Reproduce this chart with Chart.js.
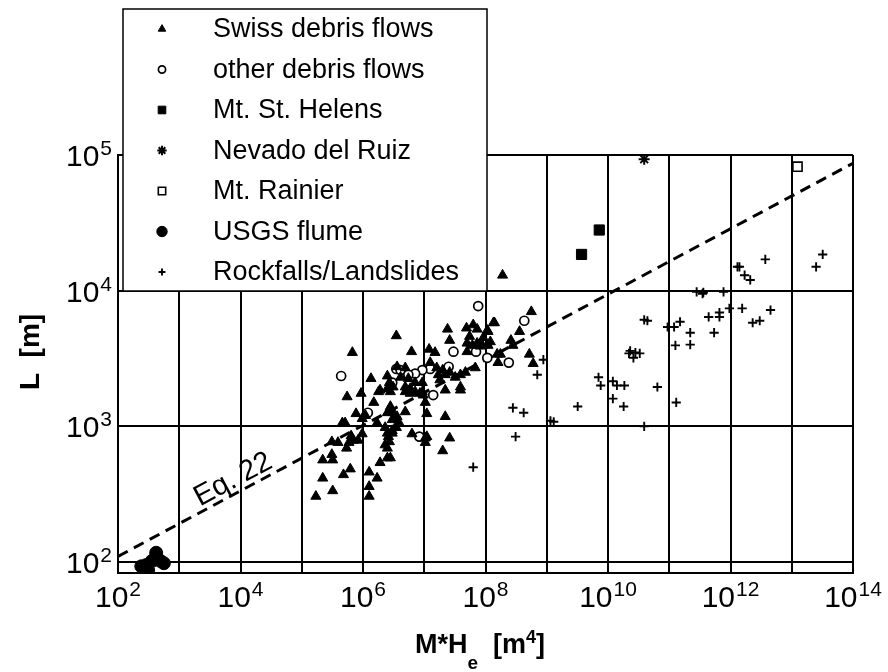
<!DOCTYPE html>
<html>
<head>
<meta charset="utf-8">
<script src="https://cdn.jsdelivr.net/npm/chart.js@4.4.0/dist/chart.umd.min.js"></script>
<style>
  html, body { margin: 0; padding: 0; background: #fff; }
  #wrap { width: 888px; height: 672px; }
</style>
</head>
<body>
<div id="wrap"><canvas id="runout" width="888" height="672"></canvas></div>
<script>
// ----- data (M*He in m^4, L in m) -----
const swissX = [3.5e6, 6.7e5, 6.2e6, 1.2e7, 1.5e7, 2.4e7, 2.6e7, 4.9e7, 6.3e7, 7.3e7, 5.5e7, 5.0e7, 6.1e7, 7.3e7, 1.35e8, 1.07e8, 5.0e7, 8.9e7, 1.2e8, 1.55e8,
  1.25e7, 1.6e7, 2.0e7, 1.7e7, 2.2e7, 2.6e7, 3.2e7, 3.9e7, 4.7e7, 1.8e7,
  3.6e6, 4.9e6, 4.1e6, 5.5e6, 4.9e6, 5.9e6, 7.1e6, 9.3e6, 3.9e7, 6.8e7, 8.5e6,
  1.35e6, 2.5e6, 2.7e6, 1.9e6, 2.5e6, 3.1e6, 5.5e5, 9.3e5, 1.8e6, 1.5e6,
  7.7e5, 9.7e5, 1.1e6, 1.7e6, 2.5e6, 2.8e6, 3.0e6, 3.6e6,
  4.6e5, 5.1e5, 6.4e5, 6.9e5, 9.7e5, 8.3e5, 2.3e6, 2.5e6, 2.6e6, 3.0e6, 3.5e6,
  3.1e5, 3.9e5, 5.4e5, 5.9e5, 2.3e6, 2.5e6, 2.7e6,
  2.2e5, 3.1e5, 3.2e5, 1.9e6, 2.5e6,
  2.2e5, 4.8e5, 6.2e5, 1.26e6, 1.7e6, 1.26e6,
  1.7e5, 3.2e5, 1.26e6,
  4.9e6, 5.9e6, 7.1e6, 9.3e6, 1.04e7, 9.6e6, 2.2e7,
  4.9e6, 1.1e7, 2.2e7, 3.8e6, 2.8e6, 3.1e6,
  3.0e6, 6.3e6, 1.04e7, 1.1e7, 1.04e7, 2.6e7, 2.0e7, 2.8e6,
  1.9e8, 5.6e8, 1.4e8, 3.6e8, 9.2e7, 1.1e8, 8.2e7, 2.6e8, 2.8e8, 1.75e8, 1.6e8, 5.2e8, 6.0e8,
  3.9e7, 2.8e6, 1.1e8];
const swissY = [4650, 3500, 3550, 3700, 3500, 5200, 4300, 5300, 5600, 5200, 4600, 4100, 3950, 4100, 5800, 5100, 3550, 3950, 4200, 3400,
  2950, 2700, 2600, 2400, 2400, 2500, 2300, 2400, 2500, 2200,
  2750, 2700, 2300, 2250, 1950, 1900, 2100, 2100, 1950, 2700, 1750,
  2250, 2350, 2100, 1850, 1900, 1950, 1650, 1750, 1800, 1500,
  1240, 1140, 1200, 1060, 1260, 1400, 1120, 1180,
  1060, 1060, 850, 790, 880, 790, 980, 890, 840, 930, 980,
  770, 760, 690, 760, 730, 690, 770,
  565, 620, 565, 540, 585,
  415, 440, 485, 460, 415, 360,
  305, 335, 305,
  1800, 1750, 1800, 1800, 1500, 1700, 1850,
  1280, 1240, 1180, 1080, 1370, 1260,
  890, 880, 820, 840, 760, 820, 660, 585,
  13000, 7000, 5800, 5000, 4500, 3950, 3900, 4300, 3950, 3400, 2950, 3400, 2900,
  1850, 1800, 5000];

const otherX = [4.4e5, 3.5e6, 3.0e6, 7.6e7, 3.0e7, 7.0e7, 1.07e8, 1.25e7, 2.5e7, 9.3e6, 7.1e6, 5.5e6, 4.1e6, 1.4e7, 1.2e6, 8.3e6, 4.3e8, 2.4e8];
const otherY = [2350, 2650, 2100, 7700, 3550, 3550, 3200, 2650, 2750, 2600, 2450, 2400, 2600, 1700, 1260, 840, 6000, 2950];

const helensX = [3.7e9, 7.2e9];
const helensY = [18500, 28000];

const ruizX = [3.9e10];
const ruizY = [93000];

const rainierX = [1.24e13];
const rainierY = [82000];

const flumeX = [240, 290, 310, 360, 420, 490, 560];
const flumeY = [93, 95, 87, 102, 117, 102, 98];

const rockX = [6.3e7, 8.8e8, 7.0e8, 2.8e8, 4.2e8, 3.1e8, 1.15e9, 1.3e9, 3.2e9, 7.0e9, 7.6e9, 1.2e10, 1.4e10, 1.85e10, 1.2e10, 1.8e10, 6.4e10, 3.9e10,
  2.3e10, 2.8e10, 2.6e10, 3.3e10, 2.2e10, 3.9e10, 4.4e10, 9.4e10, 1.2e11, 1.5e11, 2.2e11, 1.26e11, 2.2e11, 4.4e11, 6.6e11, 6.6e11, 9.6e11, 1.55e12,
  5.4e11, 2.3e12, 3.0e12, 4.5e12, 1.3e11, 2.8e11, 3.5e11, 3.6e11, 7.7e11, 1.3e12, 1.4e12, 1.7e12, 2.1e12, 3.7e12, 3.2e13, 2.5e13];
const rockY = [500, 3100, 2400, 1370, 1260, 840, 1100, 1080, 1400, 2300, 2000, 2150, 2000, 2000, 1600, 1400, 1950, 1000,
  3600, 3500, 3200, 3450, 3450, 6100, 6000, 5400, 5400, 5900, 4900, 3950, 4000, 6400, 6900, 6400, 7400, 7400,
  4900, 5800, 6000, 7200, 1500, 9800, 9500, 9700, 9800, 15000, 15000, 13000, 12000, 17000, 18500, 15000];

// Eq. 22 line, end points
const eqX = [1e2, 1e14];
const eqY = [110, 87000];
const eqLabel = 'Eq. 22';
const eqLabelAt = [7.6e3, 405];

// axes
const xGrid = [1e2, 1e3, 1e4, 1e5, 1e6, 1e7, 1e8, 1e9, 1e10, 1e11, 1e12, 1e13, 1e14];
const xLabelVals = [1e2, 1e4, 1e6, 1e8, 1e10, 1e12, 1e14];
const xLabelExps = ['2', '4', '6', '8', '10', '12', '14'];
const yGrid = [1e2, 1e3, 1e4, 1e5];
const yLabelExps = ['2', '3', '4', '5'];

const legendNames = ['Swiss debris flows', 'other debris flows', 'Mt. St. Helens', 'Nevado del Ruiz',
  'Mt. Rainier', 'USGS flume', 'Rockfalls/Landslides'];

const FONT = 'Arial, "Liberation Sans", Helvetica, sans-serif';

const pts = (xs, ys) => xs.map((x, i) => ({ x, y: ys[i] }));

// 各系列のマーカー設定
const markers = [
  { pointStyle: 'triangle', radius: 5.8, fill: '#000', stroke: '#000', borderWidth: 1 },
  { pointStyle: 'circle', radius: 4.5, fill: '#fff', stroke: '#000', borderWidth: 1.7 },
  { pointStyle: 'rect', radius: 7.2, fill: '#000', stroke: '#000', borderWidth: 1 },
  { pointStyle: 'star', radius: 5.5, fill: '#000', stroke: '#000', borderWidth: 2 },
  { pointStyle: 'rect', radius: 6.5, fill: '#fff', stroke: '#000', borderWidth: 1.6 },
  { pointStyle: 'circle', radius: 6.5, fill: '#000', stroke: '#000', borderWidth: 1 },
  { pointStyle: 'cross', radius: 4.6, fill: '#000', stroke: '#000', borderWidth: 1.9 },
];
const legendScale = [0.75, 0.8, 0.75, 0.85, 0.8, 0.8, 0.75];

const series = [
  pts(swissX, swissY), pts(otherX, otherY), pts(helensX, helensY), pts(ruizX, ruizY),
  pts(rainierX, rainierY), pts(flumeX, flumeY), pts(rockX, rockY),
];

const datasets = series.map((data, i) => ({
  type: 'scatter',
  label: legendNames[i],
  data,
  pointStyle: markers[i].pointStyle,
  pointRadius: markers[i].radius,
  pointBackgroundColor: markers[i].fill,
  pointBorderColor: markers[i].stroke,
  pointBorderWidth: markers[i].borderWidth,
  order: 1,
}));
datasets.push({
  type: 'line',
  label: eqLabel,
  data: pts(eqX, eqY),
  borderColor: '#000',
  borderWidth: 3,
  borderDash: [11, 7],
  pointRadius: 0,
  fill: false,
  order: 2,
});

// "10" + superscript exponent
function powLabel(ctx, exp, x, yMid, align) {
  ctx.font = `30px ${FONT}`;
  const wb = ctx.measureText('10').width;
  ctx.font = `21px ${FONT}`;
  const ws = ctx.measureText(exp).width;
  const total = wb + ws + 1;
  const x0 = align === 'right' ? x - total : x - total / 2;
  const base = yMid + 11;
  ctx.textAlign = 'left';
  ctx.textBaseline = 'alphabetic';
  ctx.font = `30px ${FONT}`;
  ctx.fillText('10', x0, base);
  ctx.font = `21px ${FONT}`;
  ctx.fillText(exp, x0 + wb + 1, base - 11);
}

const decor = {
  id: 'decor',
  afterDraw(chart) {
    const ctx = chart.ctx;
    const sx = chart.scales.x, sy = chart.scales.y;
    ctx.save();
    ctx.fillStyle = '#000';

    // tick labels
    yGrid.forEach((v, i) => powLabel(ctx, yLabelExps[i], 112, sy.getPixelForValue(v), 'right'));
    xLabelVals.forEach((v, i) => powLabel(ctx, xLabelExps[i], sx.getPixelForValue(v), 596, 'center'));

    // y title
    ctx.save();
    ctx.translate(31, 352);
    ctx.rotate(-Math.PI / 2);
    ctx.font = `bold 28px ${FONT}`;
    ctx.textAlign = 'center';
    ctx.textBaseline = 'middle';
    ctx.fillText('L  [m]', 0, 0);
    ctx.restore();

    // x title: M*He [m4]
    const parts = [
      { t: 'M*H', f: `bold 27px ${FONT}`, dy: 0 },
      { t: 'e', f: `bold 19px ${FONT}`, dy: 16 },
      { t: '  [m', f: `bold 27px ${FONT}`, dy: 0 },
      { t: '4', f: `bold 18px ${FONT}`, dy: -10 },
      { t: ']', f: `bold 27px ${FONT}`, dy: 0 },
    ];
    let tw = 0;
    parts.forEach(p => { ctx.font = p.f; p.w = ctx.measureText(p.t).width; tw += p.w; });
    let tx = 480 - tw / 2;
    ctx.textAlign = 'left';
    ctx.textBaseline = 'alphabetic';
    parts.forEach(p => { ctx.font = p.f; ctx.fillText(p.t, tx, 653 + p.dy); tx += p.w; });

    // Eq. 22 label, rotated along the line
    const x1 = sx.getPixelForValue(eqX[0]), y1 = sy.getPixelForValue(eqY[0]);
    const x2 = sx.getPixelForValue(eqX[1]), y2 = sy.getPixelForValue(eqY[1]);
    const ang = Math.atan2(y2 - y1, x2 - x1);
    ctx.save();
    ctx.translate(sx.getPixelForValue(eqLabelAt[0]), sy.getPixelForValue(eqLabelAt[1]));
    ctx.rotate(ang);
    ctx.font = `29px ${FONT}`;
    ctx.textAlign = 'center';
    ctx.textBaseline = 'middle';
    ctx.fillText(eqLabel, 0, 0);
    ctx.restore();

    // legend box (over the plot)
    const lx = 123, ly = 9, lw = 364, lh = 282;
    ctx.fillStyle = '#fff';
    ctx.fillRect(lx, ly, lw, lh);
    ctx.strokeStyle = '#000';
    ctx.lineWidth = 1.5;
    ctx.strokeRect(lx, ly, lw, lh);
    legendNames.forEach((name, i) => {
      const yy = 29 + i * 40.5;
      const m = markers[i];
      ctx.fillStyle = m.fill;
      ctx.strokeStyle = m.stroke;
      ctx.lineWidth = m.borderWidth;
      Chart.helpers.drawPoint(ctx, { pointStyle: m.pointStyle, radius: m.radius * legendScale[i], rotation: 0, borderWidth: m.borderWidth }, 162, yy);
      ctx.fillStyle = '#000';
      ctx.font = `27px ${FONT}`;
      ctx.textAlign = 'left';
      ctx.textBaseline = 'middle';
      ctx.fillText(name, 213, yy + 1);
    });
    ctx.restore();
  }
};

new Chart(document.getElementById('runout'), {
  data: { datasets },
  options: {
    responsive: false,
    animation: false,
    layout: { padding: { left: 118, right: 35, top: 155, bottom: 99 } },
    plugins: { legend: { display: false }, tooltip: { enabled: false } },
    scales: {
      x: {
        type: 'logarithmic', min: 1e2, max: 1e14,
        afterBuildTicks: a => { a.ticks = xGrid.map(v => ({ value: v })); },
        ticks: { display: false },
        grid: { color: '#000', lineWidth: 2, drawTicks: false },
        border: { color: '#000', width: 2 },
      },
      y: {
        type: 'logarithmic', min: 83, max: 1e5,
        afterBuildTicks: a => { a.ticks = yGrid.map(v => ({ value: v })); },
        ticks: { display: false },
        grid: { color: '#000', lineWidth: 2, drawTicks: false },
        border: { color: '#000', width: 2 },
      }
    }
  },
  plugins: [decor]
});
</script>
</body>
</html>
